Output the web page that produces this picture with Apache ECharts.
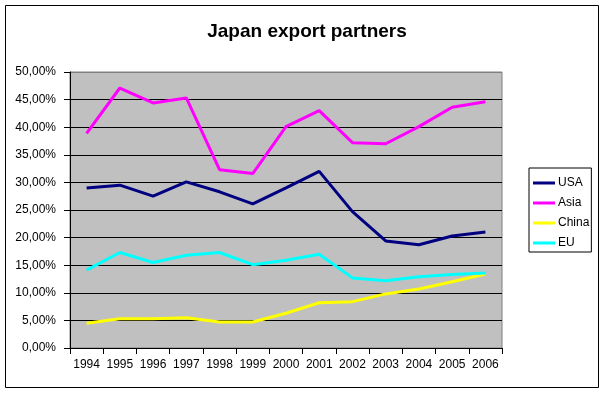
<!DOCTYPE html>
<html>
<head>
<meta charset="utf-8">
<script src="https://cdn.jsdelivr.net/npm/echarts@6/dist/echarts.min.js"></script>
<style>
html,body{margin:0;padding:0;background:#fff;}
#c{width:607px;height:394px;}
</style>
</head>
<body>
<div id="c"></div>
<script>
var years = ['1994','1995','1996','1997','1998','1999','2000','2001','2002','2003','2004','2005','2006'];
var usa   = [29.0, 29.5, 27.5, 30.1, 28.3, 26.1, 29.0, 32.0, 24.7, 19.4, 18.7, 20.3, 21.0];
var asia  = [38.9, 47.1, 44.4, 45.3, 32.3, 31.6, 40.1, 43.0, 37.2, 37.0, 40.1, 43.6, 44.6];
var china = [4.5, 5.3, 5.3, 5.5, 4.7, 4.7, 6.3, 8.2, 8.4, 9.8, 10.7, 12.0, 13.4];
var eu    = [14.1, 17.3, 15.5, 16.8, 17.3, 15.1, 15.9, 17.0, 12.7, 12.2, 12.9, 13.3, 13.6];
var seriesNames = ['USA','Asia','China','EU'];
var seriesColors = ['#000080','#FF00FF','#FFFF00','#00FFFF'];
var seriesData = [usa, asia, china, eu];

var font = '"Liberation Sans", Arial, sans-serif';
var chart = echarts.init(document.getElementById('c'), null, {renderer:'canvas'});
var gridColors = [];
for (var i = 0; i < 10; i++) gridColors.push('#000000');
gridColors.push('#808080');

chart.setOption({
  animation: false,
  backgroundColor: '#ffffff',
  title: {
    text: 'Japan export partners',
    left: 302, top: 17, textAlign: 'center',
    textStyle: {fontFamily: font, fontSize: 19, fontWeight: 'bold', color: '#000'}
  },
  graphic: [{
    type: 'rect', silent: true, z: -1,
    shape: {x: 5.5, y: 5.5, width: 593, height: 382},
    style: {fill: 'none', stroke: '#000', lineWidth: 1}
  }],
  legend: {
    orient: 'vertical',
    left: 529, top: 168,
    padding: [9, 2, 3, 4],
    borderColor: '#000', borderWidth: 1,
    backgroundColor: '#fff',
    itemWidth: 22, itemHeight: 3, itemGap: 8,
    icon: 'rect',
    data: seriesNames,
    textStyle: {fontFamily: font, fontSize: 12, color: '#000', padding: [0,0,0,-2]}
  },
  grid: {
    left: 70, right: 105, top: 72, bottom: 46,
    show: true, backgroundColor: '#C0C0C0', borderColor: '#808080', borderWidth: 1
  },
  xAxis: {
    type: 'category', data: years, boundaryGap: true,
    axisLine: {lineStyle: {color: '#000', width: 1}},
    axisTick: {show: true, interval: 0, length: 6, lineStyle: {color: '#000'}},
    axisLabel: {interval: 0, margin: 11, fontFamily: font, fontSize: 12, color: '#000'},
    splitLine: {show: false}
  },
  yAxis: {
    type: 'value', min: 0, max: 50, interval: 5,
    axisLine: {show: true, lineStyle: {color: '#000', width: 1}},
    axisTick: {show: true, length: 6, lineStyle: {color: '#000'}},
    axisLabel: {margin: 14, fontFamily: font, fontSize: 12, color: '#000',
      formatter: function(v){ return v.toFixed(2).replace('.', ',') + '%'; }},
    splitLine: {show: true, lineStyle: {color: gridColors, width: 1}}
  },
  series: seriesNames.map(function(n, i){
    return {
      name: n, type: 'line', data: seriesData[i],
      showSymbol: false, symbol: 'none',
      lineStyle: {color: seriesColors[i], width: 3},
      itemStyle: {color: seriesColors[i]}
    };
  })
});
</script>
</body>
</html>
